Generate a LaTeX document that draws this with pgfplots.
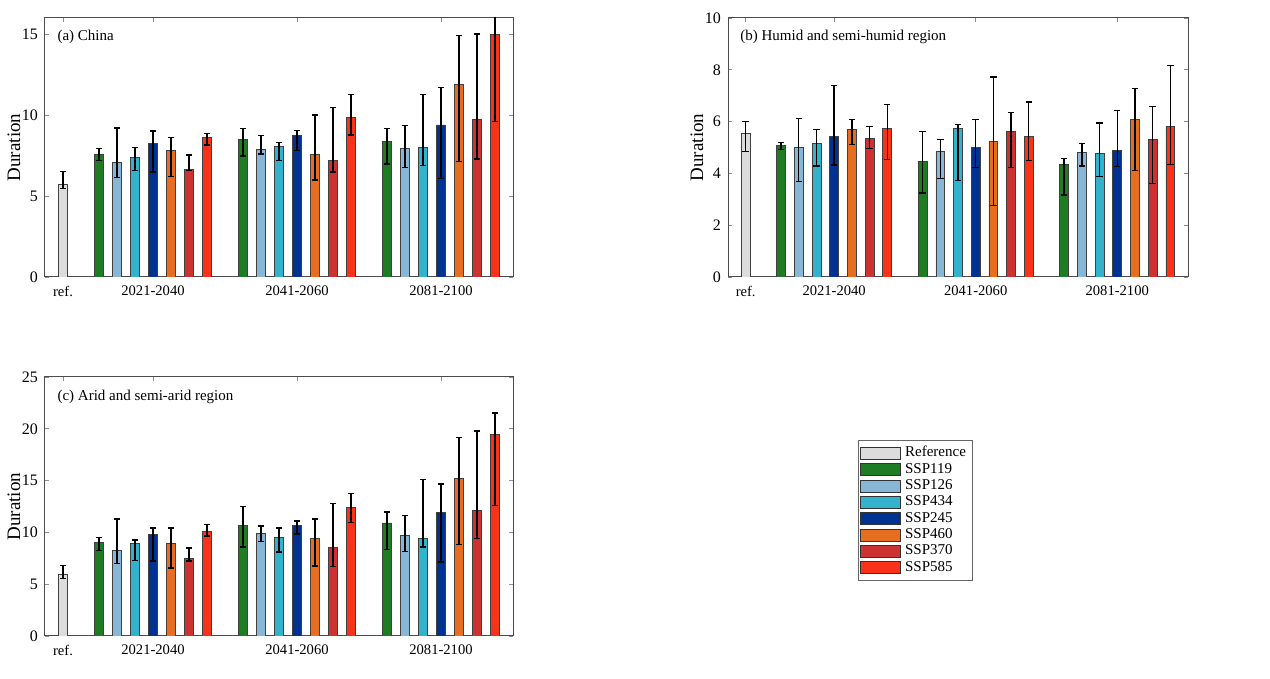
\documentclass[border=0pt]{standalone}
\usepackage{pgfplots}
\usepackage{pgfplotstable}
\pgfplotsset{compat=1.18}
\usepackage{fontspec}
\setmainfont{Liberation Serif}

\definecolor{cref}{RGB}{220,220,220}
\definecolor{c119}{RGB}{30,125,35}
\definecolor{c126}{RGB}{135,182,215}
\definecolor{c434}{RGB}{50,178,205}
\definecolor{c245}{RGB}{0,50,145}
\definecolor{c460}{RGB}{230,110,30}
\definecolor{c370}{RGB}{205,50,50}
\definecolor{c585}{RGB}{250,50,25}

% rows: ref, then SSP119 x3, SSP126 x3, SSP434 x3, SSP245 x3, SSP460 x3, SSP370 x3, SSP585 x3
\pgfplotstableread{
x  y     lo    hi
0  5.72  5.47  6.50
2  7.57  7.20  7.94
10 8.48  7.47  9.18
18 8.38  6.97  9.18
3  7.08  6.15  9.20
11 7.88  7.59  8.73
19 7.94  6.77  9.35
4  7.41  6.58  8.00
12 8.07  7.20  8.31
20 8.00  6.89  11.26
5  8.25  6.48  9.02
13 8.77  7.82  9.06
21 9.39  6.09  11.72
6  7.82  6.19  8.60
14 7.57  5.98  10.00
22 11.92 7.12  14.92
7  6.64  6.58  7.53
15 7.18  6.48  10.48
23 9.74  7.30  15.00
8  8.62  8.15  8.85
16 9.86  8.77  11.26
24 14.96 9.59  16.40
}\china

\pgfplotstableread{
x  y     lo    hi
0  5.55  4.84  6.00
2  5.08  4.93  5.19
10 4.46  3.25  5.61
18 4.35  3.16  4.57
3  5.01  3.68  6.13
11 4.86  3.81  5.30
19 4.81  4.28  5.16
4  5.16  4.28  5.70
12 5.74  3.72  5.88
20 4.77  3.87  5.94
5  5.42  4.32  7.39
13 4.99  4.22  6.08
21 4.88  4.26  6.43
6  5.70  5.12  6.09
14 5.24  2.77  7.72
22 6.09  4.10  7.28
7  5.34  4.97  5.81
15 5.63  4.23  6.36
23 5.32  3.61  6.59
8  5.74  4.54  6.67
16 5.42  4.50  6.75
24 5.82  4.35  8.17
}\humid

\pgfplotstableread{
x  y     lo    hi
0  5.93  5.54  6.80
2  9.05  8.28  9.50
10 10.70 8.60  12.50
18 10.92 8.34  11.98
3  8.28  7.02  11.28
11 9.92  9.12  10.63
19 9.70  8.18  11.63
4  8.96  7.31  9.28
12 9.54  8.09  10.41
20 9.44  8.60  15.08
5  9.83  7.22  10.44
13 10.70 9.86  11.11
21 11.92 7.15  14.69
6  8.96  6.57  10.44
14 9.44  6.77  11.31
22 15.24 8.86  19.17
7  7.51  7.25  8.51
15 8.54  6.70  12.79
23 12.15 9.41  19.78
8  10.08 9.66  10.76
16 12.44 10.95 13.76
24 19.49 12.57 21.52
}\arid

\pgfplotsset{
  panel/.style={
    scale only axis, width=234pt, height=129.5pt,
    anchor=south west,
    ybar, bar width=0.5, bar shift=0,
    xmin=-1, xmax=25, ymin=0,
    xtick={0,5,13,21},
    xticklabels={ref.,2021-2040,2041-2060,2081-2100},
    tick align=inside,
    major tick length=2pt,
    tick style={black!45, line width=0.4pt},
    axis line style={black!70, line width=0.5pt},
    ylabel={Duration},
    ylabel style={yshift=-6pt, font=\fontsize{9.5}{11}\selectfont},
    xticklabel style={yshift=-1pt, font=\fontsize{7.3}{9}\selectfont},
    yticklabel style={font=\fontsize{8}{9}\selectfont},
    /pgf/number format/assume math mode=true,
    legend image code/.code={\draw[##1, draw=black!80, line width=0.4pt] (0pt,-3pt) rectangle (20pt,3pt);},
  },
}
\tikzset{ptitle/.style={anchor=west, inner sep=0pt, font=\fontsize{7.5}{9}\selectfont}}

\newcommand{\ser}[4]{%
  \addplot[fill=#1, draw=black!75, line width=0.35pt,
    x filter/.expression={(\coordindex<#2 || \coordindex>#3) ? nan : x},
    error bars/.cd, y dir=both, y explicit,
    error mark=|,
    error bar style={black, line width=0.7pt},
    error mark options={black, line width=0.7pt, mark size=1.6pt}]
    table[x=x, y=y,
      y error plus expr=\thisrow{hi}-\thisrow{y},
      y error minus expr=\thisrow{y}-\thisrow{lo}] {#4};}

\newcommand{\allseries}[1]{%
  \ser{cref}{0}{0}{#1}
  \ser{c119}{1}{3}{#1}
  \ser{c126}{4}{6}{#1}
  \ser{c434}{7}{9}{#1}
  \ser{c245}{10}{12}{#1}
  \ser{c460}{13}{15}{#1}
  \ser{c370}{16}{18}{#1}
  \ser{c585}{19}{21}{#1}}

\begin{document}
\begin{tikzpicture}
\path[use as bounding box] (0,0) rectangle (635pt,339.5pt);

\begin{axis}[panel, at={(22.5pt,201pt)}, ymax=16, ytick={0,5,10,15}]
  \allseries{\china}
  \node[ptitle] at (rel axis cs:0.026,0.927) {(a) China};
\end{axis}

\begin{axis}[panel, at={(364pt,201pt)}, width=230pt, ymax=10, ytick={0,2,4,6,8,10}]
  \allseries{\humid}
  \node[ptitle] at (rel axis cs:0.026,0.927) {(b) Humid and semi-humid region};
\end{axis}

\begin{axis}[panel, at={(22.5pt,21.5pt)}, ymax=25, ytick={0,5,10,15,20,25},
    legend style={at={(1.737,0.757)}, anchor=north west,
      draw=black!60, line width=0.4pt,
      font=\fontsize{7.5}{8}\selectfont,
      inner sep=1pt, row sep=-2.3pt,
      cells={anchor=west}}]
  \allseries{\arid}
  \node[ptitle] at (rel axis cs:0.026,0.923) {(c) Arid and semi-arid region};
  \legend{Reference,SSP119,SSP126,SSP434,SSP245,SSP460,SSP370,SSP585}
\end{axis}
\end{tikzpicture}
\end{document}
